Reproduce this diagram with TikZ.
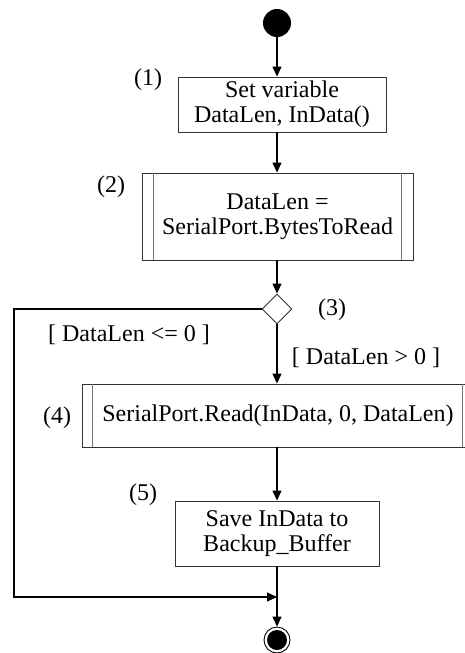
\documentclass[tikz,border=0pt]{standalone}
\usepackage{fontspec}
\setmainfont{Liberation Serif}
\usetikzlibrary{arrows.meta,calc,shapes.geometric}
\begin{document}
\begin{tikzpicture}[x=1pt,y=-1pt,
  every node/.style={font=\fontsize{24}{25}\selectfont},
  act/.style={draw=black!80, line width=0.9pt, inner sep=0pt, align=center},
  subline/.style={draw=black!55, line width=0.9pt},
  arr/.style={line width=1.1pt, -{Triangle[length=10pt,width=9pt]}},
  flow/.style={line width=1.1pt},
  tag/.style={inner sep=0pt}]
\useasboundingbox (0,0) rectangle (464,653);

% start and end markers
\node[circle, fill=black, minimum size=28pt, inner sep=0pt] (start) at (277,23) {};
\node[circle, draw=black, line width=0.9pt, minimum size=26pt, inner sep=0pt] (finish) at (277,640) {};
\node[circle, fill=black, minimum size=20pt, inner sep=0pt] (finishdot) at (277,640) {};

% activities
\node[act, minimum width=208pt, minimum height=55pt] (b1) at (282,104.5) {Set variable\\DataLen, InData()};
\node[act, minimum width=271pt, minimum height=87pt] (b2) at (277.5,216.5) {DataLen =\\SerialPort.BytesToRead};
\node[diamond, draw=black!80, line width=0.9pt, minimum width=30pt, minimum height=30pt, inner sep=0pt] (dec) at (277,309) {};
\node[act, minimum width=392pt, minimum height=63pt] (b4) at (278,415.5) {SerialPort.Read(InData, 0, DataLen)};
\node[act, minimum width=204pt, minimum height=65pt] (b5) at (277,533.5) {Save InData to\\Backup\_Buffer};

% sub-process side bars
\draw[subline] ($(b2.north west)+(12,0)$) -- ($(b2.south west)+(12,0)$);
\draw[subline] ($(b2.north east)+(-12,0)$) -- ($(b2.south east)+(-12,0)$);
\draw[subline] ($(b4.north west)+(11,0)$) -- ($(b4.south west)+(11,0)$);
\draw[subline] ($(b4.north east)+(-12,0)$) -- ($(b4.south east)+(-12,0)$);

% step numbers
\node[tag] (n1) at (148,80) {(1)};
\node[tag] (n2) at (111,187) {(2)};
\node[tag] (n3) at (332,310) {(3)};
\node[tag] (n4) at (57,418) {(4)};
\node[tag] (n5) at (143,495) {(5)};

% guards
\node[tag] (g1) at (129,335) {[ DataLen <= 0 ]};
\node[tag] (g2) at (366,358) {[ DataLen > 0 ]};

% flow
\coordinate (join) at (277,597);
\draw[arr] (start) -- (start |- b1.north);
\draw[arr] (b1.south -| start) -- (b2.north -| start);
\draw[arr] (b2.south -| start) -- (dec.north);
\draw[arr] (dec.south) -- (b4.north -| dec);
\draw[arr] (b4.south -| dec) -- (b5.north -| dec);
\draw[arr] (dec.west) -- (14,309) -- (14,597) -- (join);
\draw[arr] (b5.south -| dec) -- (finish.north);
\end{tikzpicture}
\end{document}
